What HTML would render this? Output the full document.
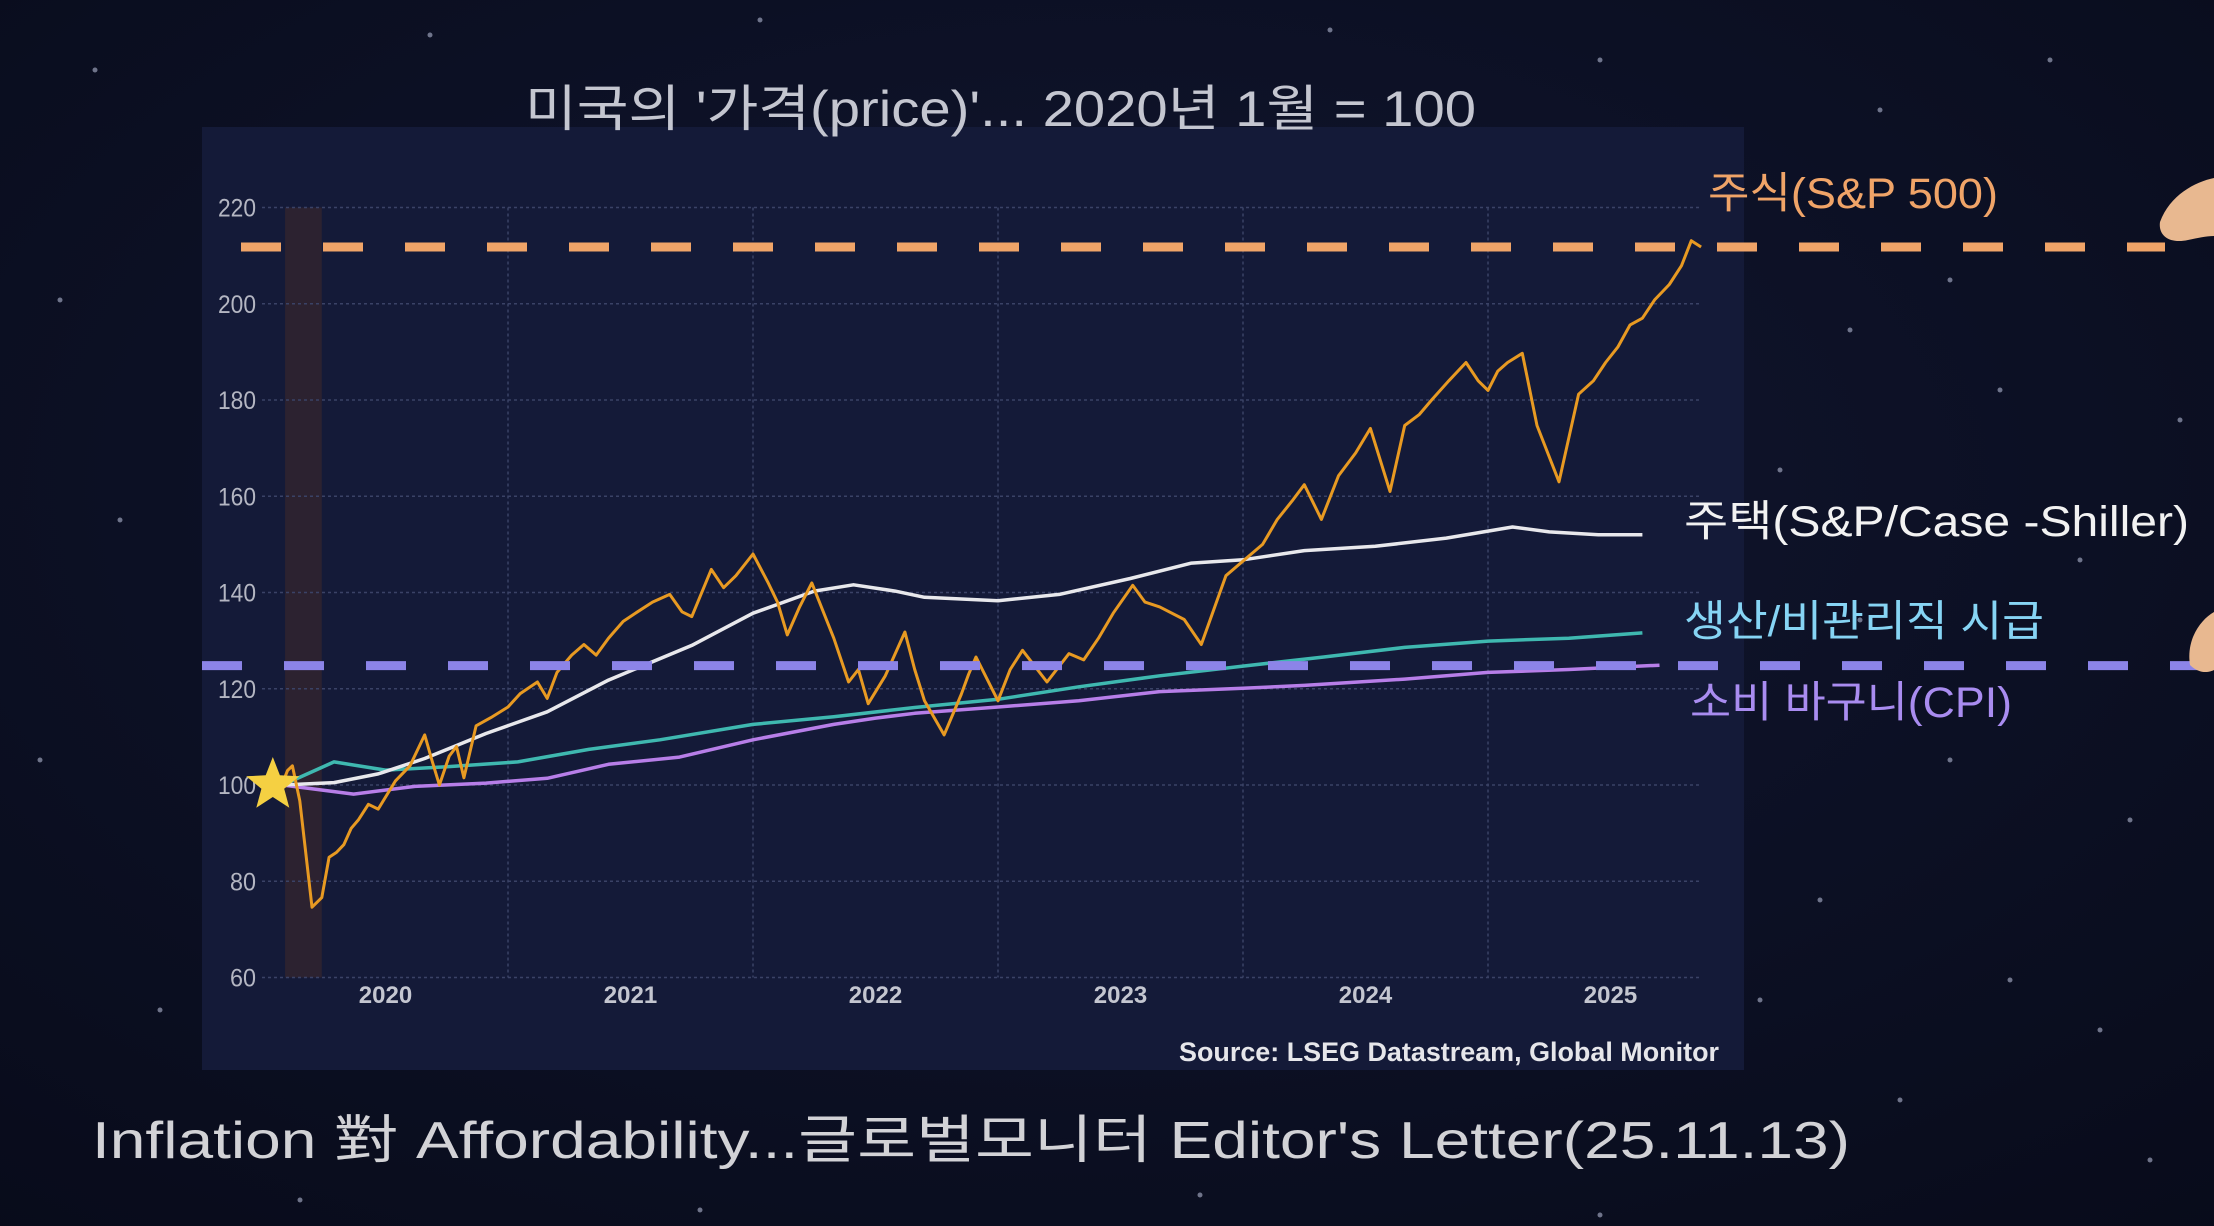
<!DOCTYPE html>
<html><head><meta charset="utf-8">
<style>
html,body{margin:0;padding:0;width:2214px;height:1226px;overflow:hidden;background:#0a0e20;}
svg{display:block}
text{font-family:"Liberation Sans","Noto Sans CJK KR",sans-serif;}
</style></head>
<body>
<svg id="chart" width="2214" height="1226" viewBox="0 0 2214 1226">
  <defs>
    <radialGradient id="bgG" cx="50%" cy="40%" r="80%">
      <stop offset="0" stop-color="#111630"/><stop offset="1" stop-color="#080b1a"/>
    </radialGradient>
  </defs>
  <rect width="2214" height="1226" fill="url(#bgG)"/>
  <g id="stars"></g>
  <rect x="202" y="127" width="1542" height="943" fill="#141a38"/>
  <text x="525" y="126" font-size="50" fill="#c4c6d0" textLength="951" lengthAdjust="spacingAndGlyphs">미국의 '가격(price)'... 2020년 1월 = 100</text>
  <g id="grid"></g>
  <g id="marks"></g>
  <text x="1719" y="1061" font-size="27" font-weight="bold" fill="#e6e6ea" text-anchor="end" textLength="540" lengthAdjust="spacingAndGlyphs">Source: LSEG Datastream, Global Monitor</text>
  <text x="92" y="1158" font-size="52" fill="#d2d2d6" textLength="1758" lengthAdjust="spacingAndGlyphs">Inflation 對 Affordability...글로벌모니터 Editor's Letter(25.11.13)</text>
  <text x="1708" y="208" font-size="43" fill="#f0a468" textLength="290" lengthAdjust="spacingAndGlyphs">주식(S&amp;P 500)</text>
  <text x="1684" y="536" font-size="43" fill="#f2f2f2" textLength="505" lengthAdjust="spacingAndGlyphs">주택(S&amp;P/Case -Shiller)</text>
  <text x="1684" y="636" font-size="43" fill="#86d4f4" textLength="360" lengthAdjust="spacingAndGlyphs">생산/비관리직 시급</text>
  <text x="1690" y="717" font-size="43" fill="#a98cf0" textLength="322" lengthAdjust="spacingAndGlyphs">소비 바구니(CPI)</text>
  <path d="M2214,178 C2195,182 2170,195 2160,222 C2158,236 2170,244 2188,240 C2198,238 2206,236 2214,236 Z" fill="#e8b890"/>
  <path d="M2214,612 C2200,620 2186,640 2190,665 C2200,675 2210,672 2214,670 Z" fill="#e8b890"/>
</svg>
<script>
const yTicks=[60,80,100,120,140,160,180,200,220];
const xTickLabels=["2020","2021","2022","2023","2024","2025"];
const spT=[2020.08,2020.1,2020.12,2020.15,2020.2,2020.24,2020.27,2020.3,2020.33,2020.36,2020.39,2020.43,2020.47,2020.54,2020.6,2020.66,2020.69,2020.72,2020.76,2020.79,2020.82,2020.87,2020.93,2021.0,2021.05,2021.12,2021.16,2021.2,2021.26,2021.31,2021.36,2021.41,2021.47,2021.52,2021.59,2021.66,2021.71,2021.75,2021.83,2021.88,2021.93,2022.0,2022.06,2022.1,2022.14,2022.19,2022.24,2022.33,2022.39,2022.43,2022.47,2022.54,2022.62,2022.66,2022.7,2022.78,2022.85,2022.88,2022.91,2023.0,2023.05,2023.1,2023.2,2023.29,2023.35,2023.41,2023.47,2023.55,2023.6,2023.66,2023.76,2023.83,2023.93,2024.02,2024.08,2024.14,2024.2,2024.25,2024.32,2024.39,2024.46,2024.52,2024.6,2024.66,2024.72,2024.77,2024.84,2024.91,2024.96,2025.0,2025.04,2025.08,2025.14,2025.2,2025.29,2025.37,2025.43,2025.48,2025.53,2025.58,2025.63,2025.68,2025.74,2025.79,2025.83,2025.87];
const spV=[100.4,103,104,96.7,74.6,76.6,85,86,87.6,91,92.8,96,95,100.8,104,110.4,105,100,106,108,101.5,112.3,114,116.2,119,121.4,118,123.4,127,129.2,127,130.5,134,135.7,138,139.6,136,135,144.8,141,143.5,148,142.2,138,131.2,137,142,130.5,121.4,124,116.9,122.7,131.8,124,117.5,110.4,118.8,123,126.6,117.5,124,128,121.4,127.3,126,130.5,135.7,141.5,138,137,134.4,129.2,143.5,147.4,150,155.2,159,162.4,155.2,164.3,169,174.1,161,174.7,177,180,184,187.8,184,182,186,187.8,189.7,174.7,163,181.2,184,187.8,191,195.6,197,200.8,204,207.9,213.1,211.8];
const hsT=[2020.08,2020.29,2020.47,2020.66,2020.91,2021.16,2021.41,2021.75,2022.0,2022.25,2022.41,2022.58,2022.7,2023.0,2023.25,2023.54,2023.79,2024.0,2024.25,2024.54,2024.83,2025.1,2025.25,2025.45,2025.63];
const hsV=[100,100.5,102.3,105.5,110.7,115.2,121.8,129,135.7,140.3,141.6,140.3,139,138.3,139.6,142.9,146.1,146.8,148.7,149.6,151.3,153.6,152.6,152,152];
const wgT=[2020.08,2020.29,2020.5,2020.75,2021.04,2021.33,2021.62,2022.0,2022.33,2022.66,2023.0,2023.33,2023.66,2024.0,2024.33,2024.66,2025.0,2025.33,2025.63];
const wgV=[100,104.8,103.1,103.8,104.8,107.4,109.4,112.6,114.2,116.1,117.8,120.4,122.7,124.7,126.6,128.6,129.9,130.5,131.6];
const cpT=[2020.08,2020.37,2020.62,2020.91,2021.16,2021.41,2021.7,2022.0,2022.33,2022.5,2022.66,2023.0,2023.33,2023.66,2024.0,2024.25,2024.66,2025.0,2025.33,2025.7];
const cpV=[100,98.1,99.7,100.4,101.4,104.3,105.8,109.4,112.6,113.9,114.9,116.2,117.5,119.4,120.1,120.7,122,123.4,124,124.9];
const refLines=[211.8,124.8];
const recession=[2020.09,2020.24];

const NS="http://www.w3.org/2000/svg";
const X0=263, PXY=245, Y0=207.5, PXV=4.8125;
const x=t=>X0+PXY*(t-2020);
const y=v=>Y0+(220-v)*PXV;
function mk(tag,attrs,parent){const e=document.createElementNS(NS,tag);for(const k in attrs)e.setAttribute(k,attrs[k]);parent.appendChild(e);return e;}
const stars=document.getElementById('stars'),grid=document.getElementById('grid'),marks=document.getElementById('marks');
const starPts=[[95,70],[430,35],[760,20],[1330,30],[1600,60],[1880,110],[2050,60],[1950,280],[1850,330],[2000,390],[1780,470],[2080,560],[1950,760],[2130,820],[1820,900],[2010,980],[1900,1100],[2150,1160],[60,300],[120,520],[40,760],[160,1010],[300,1200],[700,1210],[1200,1195],[1600,1215],[2100,1030],[1760,1000],[2180,420],[1860,620]];
starPts.forEach(p=>{const c=mk('circle',{cx:p[0],cy:p[1],r:2.5,fill:'#9aa0b8',opacity:0.7},stars);

});
const band=mk('rect',{x:x(recession[0]),y:y(220),width:x(recession[1])-x(recession[0]),height:y(60)-y(220),fill:'#2c2230'},grid);


yTicks.forEach(v=>{
  const l=mk('line',{x1:262,x2:1702,y1:y(v),y2:y(v),stroke:'#3a4266','stroke-width':1.5,'stroke-dasharray':'3 3'},grid);
  
  
  const t=mk('text',{x:256,y:y(v)+9,'font-size':25,fill:'#b4b6c2','text-anchor':'end',textLength:38,lengthAdjust:'spacingAndGlyphs'},grid);
  t.textContent=v;
  if(v<100) t.setAttribute('textLength',26);
  
  
});
xTickLabels.forEach((lab,i)=>{
  const yr=+lab;
  if(i>0){const g=mk('line',{x1:x(yr),x2:x(yr),y1:y(220),y2:y(60),stroke:'#3a4266','stroke-width':1.5,'stroke-dasharray':'3 3'},grid);
  
  }
  const t=mk('text',{x:x(yr+0.5),y:1003,'font-size':24,'font-weight':'bold',fill:'#c4c6d0','text-anchor':'middle'},grid);
  t.textContent=lab;
  
  
});
function line(T,V,color,w,name){
  const d=T.map((t,i)=>(i?'L':'M')+x(t).toFixed(1)+','+y(V[i]).toFixed(1)).join(' ');
  const p=mk('path',{d:d,fill:'none',stroke:color,'stroke-width':w,'stroke-linejoin':'round'},marks);
  
  
}
line(cpT,cpV,'#b77ee8',3.5,'cpi-line');
line(wgT,wgV,'#3fb8b0',3.5,'wages-line');
line(hsT,hsV,'#e8e8ec',3.5,'case-shiller-line');
line(spT,spV,'#e89a22',3,'sp500-line');
const r1=mk('line',{x1:241,x2:2165,y1:y(refLines[0]),y2:y(refLines[0]),stroke:'#f0a468','stroke-width':9,'stroke-dasharray':'40 42'},marks);


const r2=mk('line',{x1:202,x2:2214,y1:y(refLines[1]),y2:y(refLines[1]),stroke:'#8c84e8','stroke-width':9,'stroke-dasharray':'40 42'},marks);


const sx=x(2020.04), sy=y(100), R=28, r=12; let pts=[];
for(let i=0;i<10;i++){const a=-Math.PI/2+i*Math.PI/5, rr=i%2?r:R;pts.push((sx+rr*Math.cos(a)).toFixed(1)+','+(sy+rr*Math.sin(a)).toFixed(1));}
const st=mk('polygon',{points:pts.join(' '),fill:'#f5d042'},marks);


</script>
</body></html>
